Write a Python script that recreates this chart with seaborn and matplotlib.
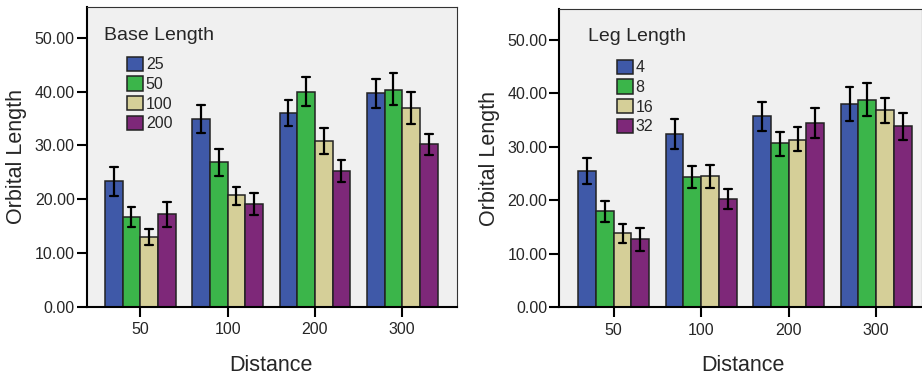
import pandas as pd
import numpy as np
import matplotlib.pyplot as plt
import seaborn as sns

# x categories
distance = ["50", "100", "200", "300"]

# left panel: Base Length
base_levels = ["25", "50", "100", "200"]
base_mean = {"25": [23.3, 34.9, 36.1, 39.7],
             "50": [16.7, 26.9, 40.0, 40.4],
             "100": [13.0, 20.7, 30.8, 37.0],
             "200": [17.2, 19.1, 25.3, 30.2]}
base_low = {"25": [20.6, 32.3, 33.7, 37.0],
            "50": [14.8, 24.3, 37.3, 37.5],
            "100": [11.4, 18.9, 28.4, 34.0],
            "200": [14.9, 17.1, 23.2, 28.2]}
base_high = {"25": [26.0, 37.5, 38.5, 42.4],
             "50": [18.6, 29.3, 42.7, 43.4],
             "100": [14.5, 22.3, 33.3, 40.0],
             "200": [19.5, 21.2, 27.3, 32.2]}

# right panel: Leg Length
leg_levels = ["4", "8", "16", "32"]
leg_mean = {"4": [25.5, 32.3, 35.7, 37.9],
            "8": [18.0, 24.3, 30.6, 38.8],
            "16": [13.8, 24.5, 31.3, 36.8],
            "32": [12.7, 20.2, 34.5, 33.8]}
leg_low = {"4": [23.0, 29.5, 33.0, 34.8],
           "8": [16.0, 22.2, 28.3, 35.8],
           "16": [12.0, 22.2, 29.1, 34.5],
           "32": [10.6, 18.3, 31.7, 31.3]}
leg_high = {"4": [27.9, 35.2, 38.3, 41.1],
            "8": [19.9, 26.4, 32.8, 41.9],
            "16": [15.5, 26.6, 33.7, 39.0],
            "32": [14.8, 22.0, 37.3, 36.2]}

colors = ["#3F59A8", "#3BB54A", "#D5CF98", "#7E2879"]
yticks = [0, 10, 20, 30, 40, 50]


def long_df(levels, mean, low, high, hue_name):
    # three rows per bar so median = mean and min/max = error bar ends
    rows = []
    for lv in levels:
        for i, d in enumerate(distance):
            for v in (low[lv][i], mean[lv][i], high[lv][i]):
                rows.append({"Distance": d, hue_name: lv, "Orbital Length": v})
    return pd.DataFrame(rows)


sns.set_theme(style="white")
plt.rcParams['font.family'] = ['Liberation Sans', 'DejaVu Sans']

fig = plt.figure(figsize=(9.22, 3.79), dpi=100)
ax1 = fig.add_axes([0.094, 0.1908, 0.4013, 0.79])
ax2 = fig.add_axes([0.6066, 0.1892, 0.393, 0.787])


def draw(ax, df, hue_name, levels, xlim, title_xy, leg_xy, xlabel_x, ylabel_x):
    ax.set_facecolor("#F0F0F0")
    sns.barplot(data=df, x="Distance", y="Orbital Length", hue=hue_name,
                order=distance, hue_order=levels, palette=colors,
                estimator="median", errorbar=lambda x: (x.min(), x.max()),
                width=0.81, gap=0, saturation=1, edgecolor="#222222", linewidth=1.1,
                capsize=0.35, err_kws={"color": "black", "linewidth": 1.6},
                ax=ax)
    ax.set_ylim(0, 55.7)
    ax.set_xlim(*xlim)
    ax.set_yticks(yticks)
    ax.set_yticklabels(["%.2f" % t for t in yticks], fontsize=11.5)
    ax.tick_params(axis="x", labelsize=11.5, length=7.5, width=1.5, pad=3.5,
                   direction="out", bottom=True, color="black")
    ax.tick_params(axis="y", length=7.5, width=1.5, pad=1, direction="out",
                   left=True, color="black")
    for s in ["left", "bottom"]:
        ax.spines[s].set_color("black")
        ax.spines[s].set_linewidth(1.5)
    for s in ["top", "right"]:
        ax.spines[s].set_color("#333333")
        ax.spines[s].set_linewidth(0.8)
    ax.set_ylabel("Orbital Length", fontsize=15.5)
    ax.set_xlabel("Distance", fontsize=15.5)
    ax.yaxis.set_label_coords(ylabel_x, 0.5)
    ax.xaxis.set_label_coords(xlabel_x, -0.16)

    handles, labels = ax.get_legend_handles_labels()
    ax.legend(handles, labels, loc="upper left", bbox_to_anchor=leg_xy,
              frameon=False, fontsize=11.5, handlelength=1.0, handleheight=1.0,
              handletextpad=0.2, labelspacing=0.25, borderpad=0, borderaxespad=0)
    ax.text(title_xy[0], title_xy[1], hue_name, transform=ax.transAxes,
            fontsize=14, ha="left", va="center")


draw(ax1, long_df(base_levels, base_mean, base_low, base_high, "Base Length"),
     "Base Length", base_levels, (-0.614, 3.623), (0.047, 0.907), (0.108, 0.835),
     0.497, -0.16)
draw(ax2, long_df(leg_levels, leg_mean, leg_low, leg_high, "Leg Length"),
     "Leg Length", leg_levels, (-0.622, 3.52), (0.08, 0.907), (0.158, 0.83),
     0.508, -0.164)

fig.savefig("out.png", dpi=100)
